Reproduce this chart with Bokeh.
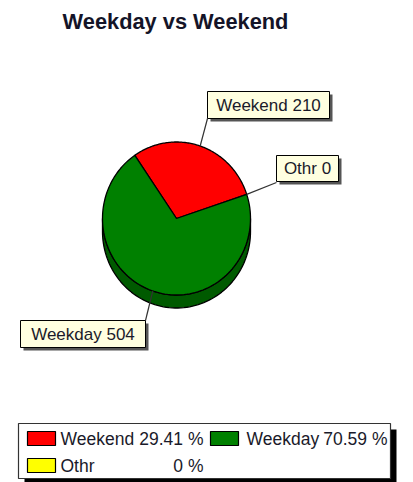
import numpy as np
from bokeh.plotting import figure
from bokeh.models import Range1d
from bokeh.core.properties import value
from bokeh.embed import file_html
from bokeh.resources import INLINE

# ---- data ----
categories = ["Weekend", "Weekday", "Othr"]
counts = [210, 504, 0]
colors = ["#FF0000", "#008000", "#FFFF00"]
side_colors = ["#8B0000", "#005A00", "#8B8B00"]
title_text = "Weekday vs Weekend"

# ---- layout (pixel-like data space, y up) ----
W, H = 413, 482
FONT = value("Liberation Sans")

p = figure(width=W, height=H, x_range=Range1d(0, W), y_range=Range1d(0, H),
           output_backend="svg", toolbar_location=None, min_border=0,
           x_axis_location=None, y_axis_location=None)
p.grid.visible = False
p.outline_line_color = None
p.background_fill_color = "white"
p.border_fill_color = "white"

# title
p.text(x=[175], y=[461], text=[title_text], text_font=FONT, text_font_size="21.8px",
       text_font_style="bold", text_align="center", text_baseline="middle",
       text_color="#141428")

# pie geometry
cx, cy, rx, ry, depth = 176.0, 264.0, 74.0, 76.5, 13.0
start_deg = 18.4
total = float(sum(counts))
fracs = np.array(counts, dtype=float) / total
bounds = start_deg + 360.0 * np.concatenate([[0.0], np.cumsum(fracs)])

# side bands (front half only)
side_xs, side_ys, side_fc = [], [], []
for i in range(len(categories)):
    a1, a2 = bounds[i], bounds[i + 1]
    if a2 <= a1:
        continue
    for lo_i, hi_i in [(180.0, 360.0), (540.0, 720.0)]:
        lo, hi = max(a1, lo_i), min(a2, hi_i)
        if hi > lo:
            t = np.radians(np.linspace(lo, hi, 80))
            xt = cx + rx * np.cos(t)
            yt = cy + ry * np.sin(t)
            side_xs.append(list(xt) + list(xt[::-1]))
            side_ys.append(list(yt) + list((yt - depth)[::-1]))
            side_fc.append(side_colors[i])
p.patches(xs=side_xs, ys=side_ys, fill_color=side_fc, line_color="black", line_width=1.3)

# top faces
top_xs, top_ys, top_fc = [], [], []
for i in range(len(categories)):
    a1, a2 = bounds[i], bounds[i + 1]
    if a2 <= a1:
        continue
    t = np.radians(np.linspace(a1, a2, 120))
    top_xs.append([cx] + list(cx + rx * np.cos(t)))
    top_ys.append([cy] + list(cy + ry * np.sin(t)))
    top_fc.append(colors[i])
p.patches(xs=top_xs, ys=top_ys, fill_color=top_fc, line_color="black", line_width=1.3)

# callout labels: box (left, right, top, bottom) and leader end point
label_boxes = {
    "Weekend": (207, 329, 391, 364),
    "Weekday": (20, 145, 162, 135),
    "Othr": (276, 338, 327, 301),
}
leader_ends = {
    "Weekend": (207, 364),
    "Weekday": (145, 162),
    "Othr": (276, 300),
}

lx0, ly0, lx1, ly1 = [], [], [], []
for i, cat in enumerate(categories):
    m = np.radians((bounds[i] + bounds[i + 1]) / 2.0)
    lx0.append(cx + rx * np.cos(m))
    ly0.append(cy + ry * np.sin(m))
    ex, ey = leader_ends[cat]
    lx1.append(ex)
    ly1.append(ey)
p.segment(x0=lx0, y0=ly0, x1=lx1, y1=ly1, line_color="#333333", line_width=1.2)

L = [label_boxes[c][0] for c in categories]
R = [label_boxes[c][1] for c in categories]
T = [label_boxes[c][2] for c in categories]
B = [label_boxes[c][3] for c in categories]
sh = 3
p.quad(left=[l + sh for l in L], right=[r + sh for r in R], top=[t - sh for t in T],
       bottom=[b - sh for b in B], fill_color="#555555", line_color=None)
p.quad(left=L, right=R, top=T, bottom=B, fill_color="#FFFFE0", line_color="black", line_width=1)
p.text(x=[(l + r) / 2 for l, r in zip(L, R)], y=[(t + b) / 2 for t, b in zip(T, B)],
       text=[f"{c} {v}" for c, v in zip(categories, counts)], text_font=FONT,
       text_font_size="17px", text_align="center", text_baseline="middle",
       text_color="#1a1a2a")

# legend
leg_l, leg_r, leg_t, leg_b = 18, 390, 59, 4
lsh = 6
p.quad(left=[leg_l + lsh], right=[leg_r + lsh], top=[leg_t - lsh], bottom=[leg_b - lsh],
       fill_color="black", line_color=None)
p.quad(left=[leg_l], right=[leg_r], top=[leg_t], bottom=[leg_b], fill_color="white",
       line_color="#333333", line_width=1.2)

col_sw = [27, 210]
col_name = [60, 246]
col_val = [203, 387]
row_y = [44, 17]
sw_l, sw_r, sw_t, sw_b, nx, ny, ntext, vx, vtext = [], [], [], [], [], [], [], [], []
for i, cat in enumerate(categories):
    c, r = i % 2, i // 2
    sw_l.append(col_sw[c]); sw_r.append(col_sw[c] + 28)
    sw_t.append(row_y[r] + 7); sw_b.append(row_y[r] - 7)
    nx.append(col_name[c]); ny.append(row_y[r]); ntext.append(cat)
    pct = round(100.0 * counts[i] / total, 2)
    vx.append(col_val[c]); vtext.append(f"{pct:g} %")
p.quad(left=sw_l, right=sw_r, top=sw_t, bottom=sw_b, fill_color=colors,
       line_color="black", line_width=1.2)
p.text(x=nx, y=ny, text=ntext, text_font=FONT, text_font_size="17.5px",
       text_align="left", text_baseline="middle", text_color="#1a1a2a")
p.text(x=vx, y=ny, text=vtext, text_font=FONT, text_font_size="17.5px",
       text_align="right", text_baseline="middle", text_color="#1a1a2a")

open("out.html", "w").write(file_html(p, INLINE))
